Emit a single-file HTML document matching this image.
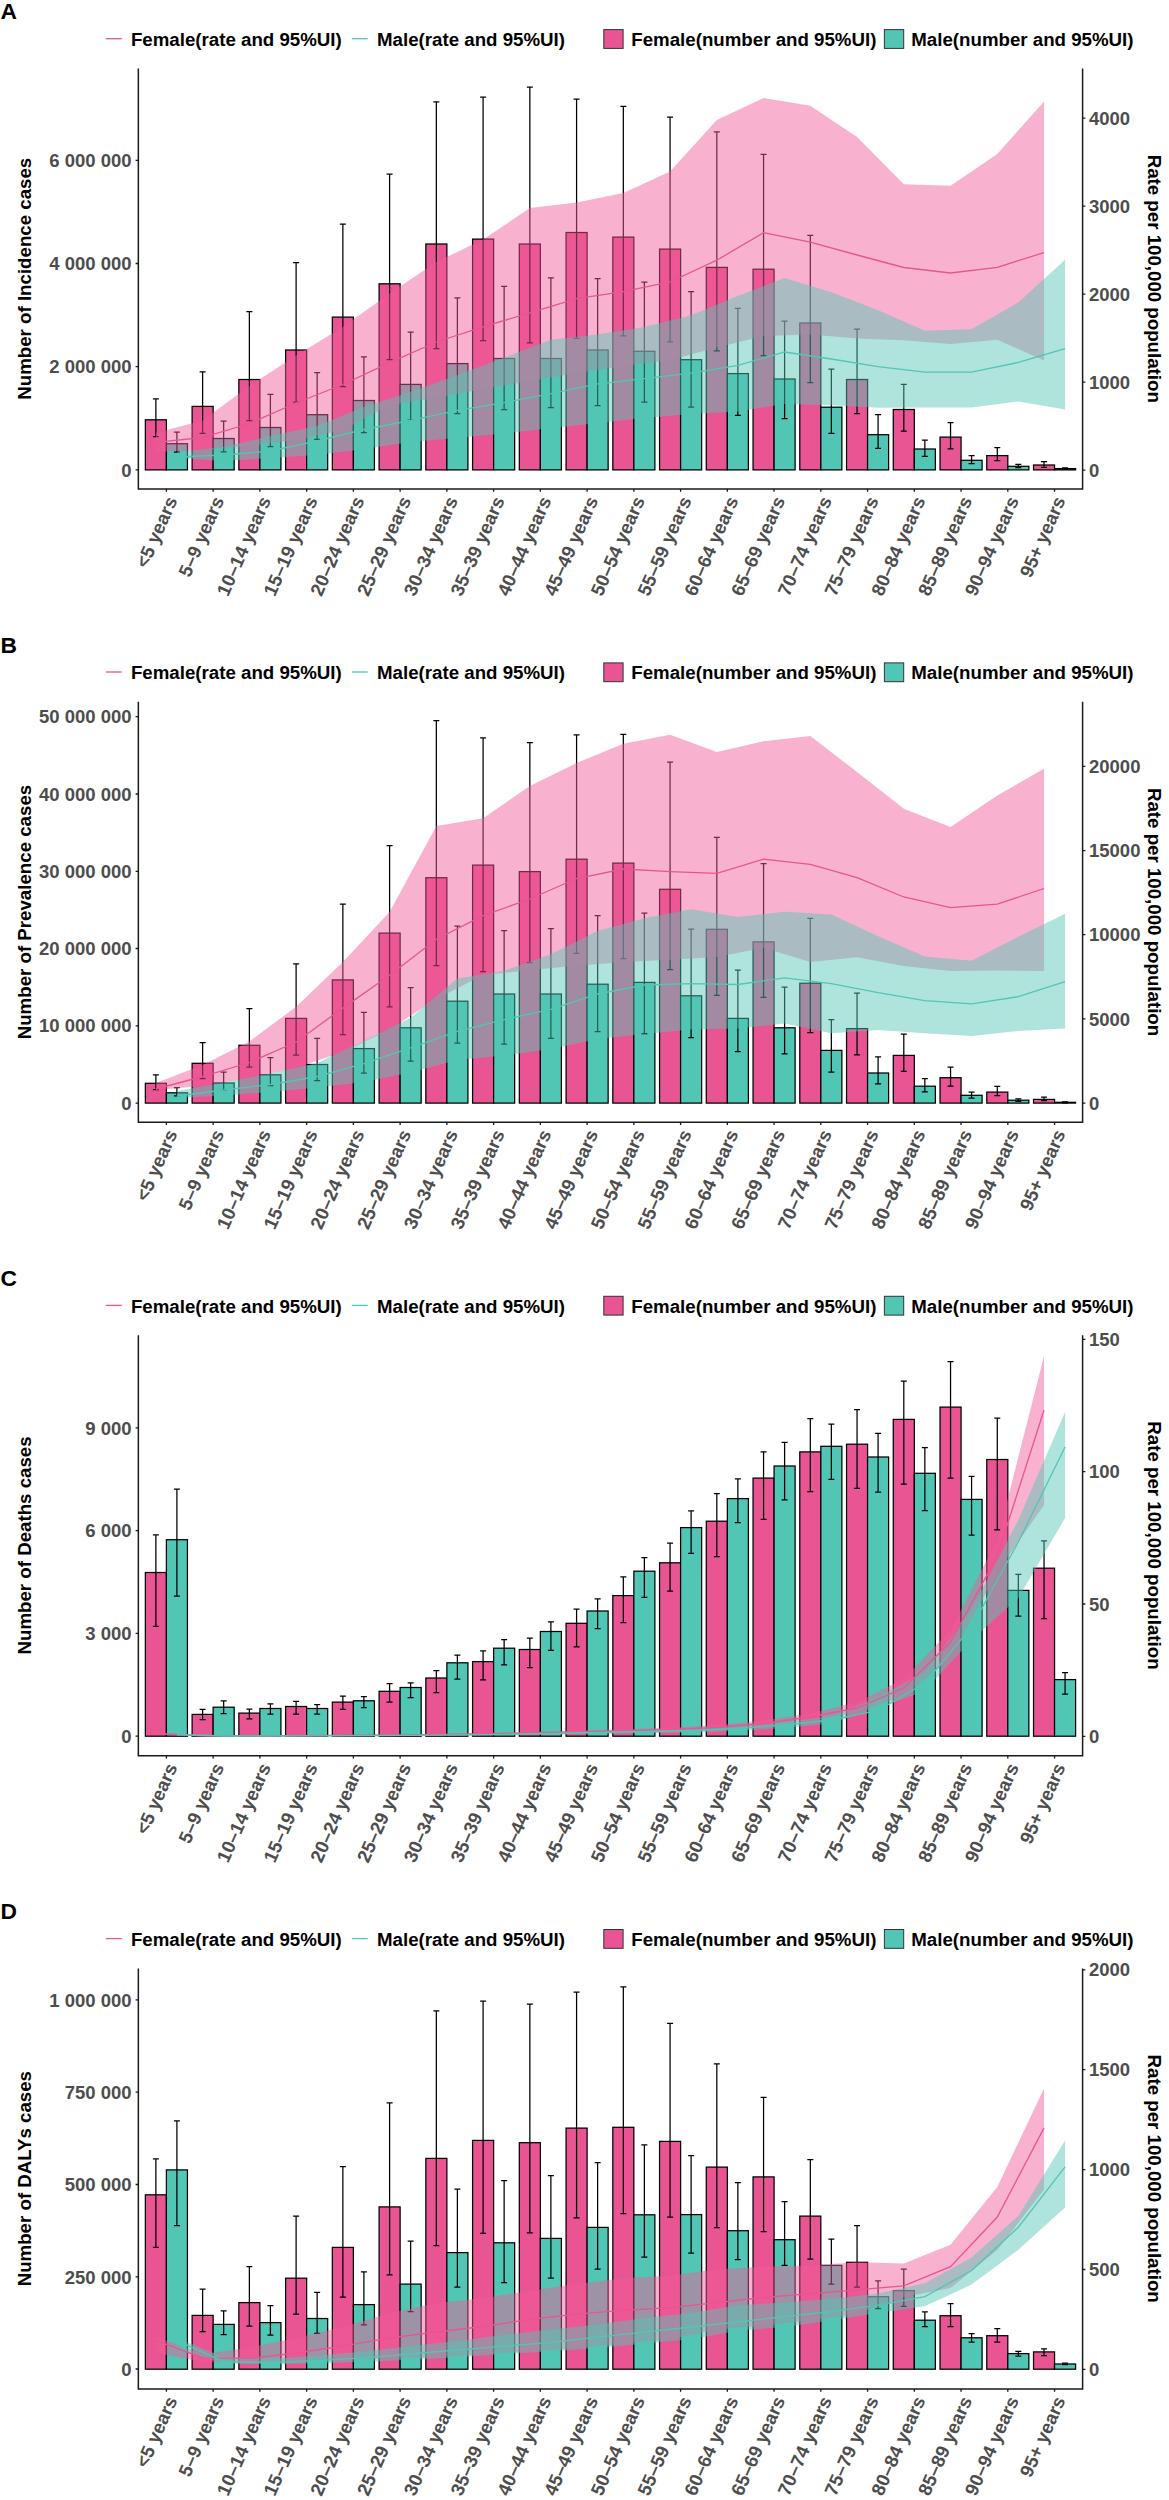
<!DOCTYPE html>
<html><head><meta charset="utf-8"><style>
html,body{margin:0;padding:0;background:#fff;}
svg{display:block;}
svg text{font-family:"Liberation Sans", sans-serif;}
</style></head><body>
<svg width="1169" height="2500" viewBox="0 0 1169 2500">
<rect width="1169" height="2500" fill="#fff"/>
<text x="0.5" y="19.2" font-size="22.8" font-weight="bold" fill="#000">A</text>
<line x1="105.7" x2="121.8" y1="38.7" y2="38.7" stroke="#E85592" stroke-width="1.3"/>
<line x1="351.8" x2="367.7" y1="38.7" y2="38.7" stroke="#52C6B4" stroke-width="1.3"/>
<rect x="603.8" y="29.6" width="19.3" height="18.8" fill="#E85592" stroke="#333" stroke-width="1"/>
<rect x="884.4" y="29.6" width="19.3" height="18.8" fill="#52C6B4" stroke="#333" stroke-width="1"/>
<text x="130.9" y="45.9" font-size="18.7" font-weight="bold" fill="#000">Female(rate and 95%UI)</text>
<text x="377" y="45.9" font-size="18.7" font-weight="bold" fill="#000">Male(rate and 95%UI)</text>
<text x="631.3" y="45.9" font-size="18.7" font-weight="bold" fill="#000">Female(number and 95%UI)</text>
<text x="911.3" y="45.9" font-size="18.7" font-weight="bold" fill="#000">Male(number and 95%UI)</text>
<rect x="145.36" y="419.8" width="21.04" height="50.1" fill="#E85592" stroke="#000" stroke-width="1.25"/>
<rect x="166.4" y="443.7" width="21.04" height="26.2" fill="#52C6B4" stroke="#000" stroke-width="1.25"/>
<rect x="192.11" y="406.4" width="21.04" height="63.5" fill="#E85592" stroke="#000" stroke-width="1.25"/>
<rect x="213.14" y="438.5" width="21.04" height="31.4" fill="#52C6B4" stroke="#000" stroke-width="1.25"/>
<rect x="238.85" y="379.5" width="21.04" height="90.4" fill="#E85592" stroke="#000" stroke-width="1.25"/>
<rect x="259.89" y="427.5" width="21.04" height="42.4" fill="#52C6B4" stroke="#000" stroke-width="1.25"/>
<rect x="285.6" y="350" width="21.04" height="119.9" fill="#E85592" stroke="#000" stroke-width="1.25"/>
<rect x="306.63" y="414.7" width="21.04" height="55.2" fill="#52C6B4" stroke="#000" stroke-width="1.25"/>
<rect x="332.34" y="317.1" width="21.04" height="152.8" fill="#E85592" stroke="#000" stroke-width="1.25"/>
<rect x="353.38" y="400.5" width="21.04" height="69.4" fill="#52C6B4" stroke="#000" stroke-width="1.25"/>
<rect x="379.09" y="283.8" width="21.04" height="186.1" fill="#E85592" stroke="#000" stroke-width="1.25"/>
<rect x="400.12" y="384.4" width="21.04" height="85.5" fill="#52C6B4" stroke="#000" stroke-width="1.25"/>
<rect x="425.83" y="244" width="21.04" height="225.9" fill="#E85592" stroke="#000" stroke-width="1.25"/>
<rect x="446.87" y="363.6" width="21.04" height="106.3" fill="#52C6B4" stroke="#000" stroke-width="1.25"/>
<rect x="472.58" y="239.1" width="21.04" height="230.8" fill="#E85592" stroke="#000" stroke-width="1.25"/>
<rect x="493.61" y="358.5" width="21.04" height="111.4" fill="#52C6B4" stroke="#000" stroke-width="1.25"/>
<rect x="519.32" y="244" width="21.04" height="225.9" fill="#E85592" stroke="#000" stroke-width="1.25"/>
<rect x="540.36" y="358.5" width="21.04" height="111.4" fill="#52C6B4" stroke="#000" stroke-width="1.25"/>
<rect x="566.07" y="232.5" width="21.04" height="237.4" fill="#E85592" stroke="#000" stroke-width="1.25"/>
<rect x="587.1" y="350" width="21.04" height="119.9" fill="#52C6B4" stroke="#000" stroke-width="1.25"/>
<rect x="612.81" y="237.1" width="21.04" height="232.8" fill="#E85592" stroke="#000" stroke-width="1.25"/>
<rect x="633.85" y="351.3" width="21.04" height="118.6" fill="#52C6B4" stroke="#000" stroke-width="1.25"/>
<rect x="659.56" y="249.1" width="21.04" height="220.8" fill="#E85592" stroke="#000" stroke-width="1.25"/>
<rect x="680.59" y="359.7" width="21.04" height="110.2" fill="#52C6B4" stroke="#000" stroke-width="1.25"/>
<rect x="706.3" y="267.4" width="21.04" height="202.5" fill="#E85592" stroke="#000" stroke-width="1.25"/>
<rect x="727.34" y="373.6" width="21.04" height="96.3" fill="#52C6B4" stroke="#000" stroke-width="1.25"/>
<rect x="753.05" y="269.2" width="21.04" height="200.7" fill="#E85592" stroke="#000" stroke-width="1.25"/>
<rect x="774.08" y="379" width="21.04" height="90.9" fill="#52C6B4" stroke="#000" stroke-width="1.25"/>
<rect x="799.79" y="323" width="21.04" height="146.9" fill="#E85592" stroke="#000" stroke-width="1.25"/>
<rect x="820.83" y="407.2" width="21.04" height="62.7" fill="#52C6B4" stroke="#000" stroke-width="1.25"/>
<rect x="846.54" y="379.5" width="21.04" height="90.4" fill="#E85592" stroke="#000" stroke-width="1.25"/>
<rect x="867.57" y="434.7" width="21.04" height="35.2" fill="#52C6B4" stroke="#000" stroke-width="1.25"/>
<rect x="893.28" y="409.5" width="21.04" height="60.4" fill="#E85592" stroke="#000" stroke-width="1.25"/>
<rect x="914.32" y="449" width="21.04" height="20.9" fill="#52C6B4" stroke="#000" stroke-width="1.25"/>
<rect x="940.03" y="437.1" width="21.04" height="32.8" fill="#E85592" stroke="#000" stroke-width="1.25"/>
<rect x="961.06" y="460.3" width="21.04" height="9.6" fill="#52C6B4" stroke="#000" stroke-width="1.25"/>
<rect x="986.77" y="455.6" width="21.04" height="14.3" fill="#E85592" stroke="#000" stroke-width="1.25"/>
<rect x="1007.81" y="466.3" width="21.04" height="3.6" fill="#52C6B4" stroke="#000" stroke-width="1.25"/>
<rect x="1033.52" y="465" width="21.04" height="4.9" fill="#E85592" stroke="#000" stroke-width="1.25"/>
<rect x="1054.55" y="468.6" width="21.04" height="1.3" fill="#52C6B4" stroke="#000" stroke-width="1.25"/>
<path d="M155.88 398.8V436.7M152.88 398.8H158.88M152.88 436.7H158.88" stroke="#000" stroke-width="1.25" fill="none"/>
<path d="M176.91 432.1V452.1M173.91 432.1H179.91M173.91 452.1H179.91" stroke="#000" stroke-width="1.25" fill="none"/>
<path d="M202.62 371.8V433.4M199.62 371.8H205.62M199.62 433.4H205.62" stroke="#000" stroke-width="1.25" fill="none"/>
<path d="M223.66 421.1V451.9M220.66 421.1H226.66M220.66 451.9H226.66" stroke="#000" stroke-width="1.25" fill="none"/>
<path d="M249.37 311.5V420.6M246.37 311.5H252.37M246.37 420.6H252.37" stroke="#000" stroke-width="1.25" fill="none"/>
<path d="M270.4 394.4V446.7M267.4 394.4H273.4M267.4 446.7H273.4" stroke="#000" stroke-width="1.25" fill="none"/>
<path d="M296.11 262.7V402.1M293.11 262.7H299.11M293.11 402.1H299.11" stroke="#000" stroke-width="1.25" fill="none"/>
<path d="M317.15 372.6V439.3M314.15 372.6H320.15M314.15 439.3H320.15" stroke="#000" stroke-width="1.25" fill="none"/>
<path d="M342.86 224.2V386.7M339.86 224.2H345.86M339.86 386.7H345.86" stroke="#000" stroke-width="1.25" fill="none"/>
<path d="M363.89 356.9V432.6M360.89 356.9H366.89M360.89 432.6H366.89" stroke="#000" stroke-width="1.25" fill="none"/>
<path d="M389.6 174.2V359.7M386.6 174.2H392.6M386.6 359.7H392.6" stroke="#000" stroke-width="1.25" fill="none"/>
<path d="M410.64 332V420M407.64 332H413.64M407.64 420H413.64" stroke="#000" stroke-width="1.25" fill="none"/>
<path d="M436.35 101.8V348.7M433.35 101.8H439.35M433.35 348.7H439.35" stroke="#000" stroke-width="1.25" fill="none"/>
<path d="M457.38 297.9V413.6M454.38 297.9H460.38M454.38 413.6H460.38" stroke="#000" stroke-width="1.25" fill="none"/>
<path d="M483.09 97.2V340.5M480.09 97.2H486.09M480.09 340.5H486.09" stroke="#000" stroke-width="1.25" fill="none"/>
<path d="M504.13 286.3V409.5M501.13 286.3H507.13M501.13 409.5H507.13" stroke="#000" stroke-width="1.25" fill="none"/>
<path d="M529.84 87.2V342.8M526.84 87.2H532.84M526.84 342.8H532.84" stroke="#000" stroke-width="1.25" fill="none"/>
<path d="M550.88 277.9V407.7M547.88 277.9H553.88M547.88 407.7H553.88" stroke="#000" stroke-width="1.25" fill="none"/>
<path d="M576.58 99V338.4M573.58 99H579.58M573.58 338.4H579.58" stroke="#000" stroke-width="1.25" fill="none"/>
<path d="M597.62 278.6V405.7M594.62 278.6H600.62M594.62 405.7H600.62" stroke="#000" stroke-width="1.25" fill="none"/>
<path d="M623.33 106.4V335.9M620.33 106.4H626.33M620.33 335.9H626.33" stroke="#000" stroke-width="1.25" fill="none"/>
<path d="M644.37 282V402.1M641.37 282H647.37M641.37 402.1H647.37" stroke="#000" stroke-width="1.25" fill="none"/>
<path d="M670.07 117.2V341.8M667.07 117.2H673.07M667.07 341.8H673.07" stroke="#000" stroke-width="1.25" fill="none"/>
<path d="M691.11 291.5V407.2M688.11 291.5H694.11M688.11 407.2H694.11" stroke="#000" stroke-width="1.25" fill="none"/>
<path d="M716.82 131.9V350.8M713.82 131.9H719.82M713.82 350.8H719.82" stroke="#000" stroke-width="1.25" fill="none"/>
<path d="M737.86 308.4V415.4M734.86 308.4H740.86M734.86 415.4H740.86" stroke="#000" stroke-width="1.25" fill="none"/>
<path d="M763.57 154.4V355.6M760.57 154.4H766.57M760.57 355.6H766.57" stroke="#000" stroke-width="1.25" fill="none"/>
<path d="M784.6 321.2V418.5M781.6 321.2H787.6M781.6 418.5H787.6" stroke="#000" stroke-width="1.25" fill="none"/>
<path d="M810.31 235.3V382.6M807.31 235.3H813.31M807.31 382.6H813.31" stroke="#000" stroke-width="1.25" fill="none"/>
<path d="M831.35 369.2V433.4M828.35 369.2H834.35M828.35 433.4H834.35" stroke="#000" stroke-width="1.25" fill="none"/>
<path d="M857.06 329V413.6M854.06 329H860.06M854.06 413.6H860.06" stroke="#000" stroke-width="1.25" fill="none"/>
<path d="M878.09 414.7V448.3M875.09 414.7H881.09M875.09 448.3H881.09" stroke="#000" stroke-width="1.25" fill="none"/>
<path d="M903.8 384.4V431.1M900.8 384.4H906.8M900.8 431.1H906.8" stroke="#000" stroke-width="1.25" fill="none"/>
<path d="M924.84 440V456.3M921.84 440H927.84M921.84 456.3H927.84" stroke="#000" stroke-width="1.25" fill="none"/>
<path d="M950.55 422.5V448.8M947.55 422.5H953.55M947.55 448.8H953.55" stroke="#000" stroke-width="1.25" fill="none"/>
<path d="M971.58 455.6V463.5M968.58 455.6H974.58M968.58 463.5H974.58" stroke="#000" stroke-width="1.25" fill="none"/>
<path d="M997.29 447.5V460.7M994.29 447.5H1000.29M994.29 460.7H1000.29" stroke="#000" stroke-width="1.25" fill="none"/>
<path d="M1018.33 464.4V467.6M1015.33 464.4H1021.33M1015.33 467.6H1021.33" stroke="#000" stroke-width="1.25" fill="none"/>
<path d="M1044.04 461.6V467.3M1041.04 461.6H1047.04M1041.04 467.3H1047.04" stroke="#000" stroke-width="1.25" fill="none"/>
<path d="M1065.07 467.8V469.1M1062.07 467.8H1068.07M1062.07 469.1H1068.07" stroke="#000" stroke-width="1.25" fill="none"/>
<polygon points="155.88,433 202.62,420.6 249.37,386 296.11,355.5 342.86,327 389.6,293.4 436.35,262 483.09,239.6 529.84,208.1 576.58,202.4 623.33,192.9 670.07,171.6 716.82,120 763.57,98 810.31,105.7 857.06,137 903.8,184.3 950.55,185.8 997.29,154 1044.04,101.6 1044.04,360.5 997.29,339.8 950.55,344 903.8,340.2 857.06,338.4 810.31,334.6 763.57,335.9 716.82,347.4 670.07,360 623.33,366 576.58,373 529.84,381 483.09,389 436.35,398 389.6,405 342.86,430 296.11,440 249.37,446 202.62,450 155.88,452" fill="#F05A96" fill-opacity="0.47"/>
<polygon points="176.91,452 223.66,447 270.4,436 317.15,426 363.89,407 410.64,392 457.38,375 504.13,357.7 550.88,339.7 597.62,334.6 644.37,326.9 691.11,315.3 737.86,296.1 784.6,278.1 831.35,292.2 878.09,310.2 924.84,330.8 971.58,329.3 1018.33,302.6 1065.07,259.7 1065.07,409.5 1018.33,401.4 971.58,407.4 924.84,407.6 878.09,407.7 831.35,405.2 784.6,403.9 737.86,411.6 691.11,414.1 644.37,418 597.62,423.1 550.88,428.3 504.13,433.4 457.38,437.8 410.64,442 363.89,449 317.15,455 270.4,458 223.66,461 176.91,458" fill="#52C6B4" fill-opacity="0.47"/>
<polyline points="155.88,442.3 202.62,437.5 249.37,423.5 296.11,403 342.86,384.5 389.6,362.6 436.35,342 483.09,326.9 529.84,312.8 576.58,298.7 623.33,291.7 670.07,282 716.82,260.2 763.57,232.7 810.31,242.2 857.06,255 903.8,267.5 950.55,273 997.29,267.3 1044.04,252.6" fill="none" stroke="#E85592" stroke-width="1.3"/>
<polyline points="176.91,457 223.66,455 270.4,451 317.15,441 363.89,429.5 410.64,420.5 457.38,410.3 504.13,402.6 550.88,393.6 597.62,383.9 644.37,378.7 691.11,373.1 737.86,365.4 784.6,352 831.35,359 878.09,366.7 924.84,372.2 971.58,372.2 1018.33,362.4 1065.07,348.7" fill="none" stroke="#52C6B4" stroke-width="1.3"/>
<path d="M138.35 68.5V489H1082.6V68.5" fill="none" stroke="#1a1a1a" stroke-width="1.5"/>
<text x="131.6" y="476.5" text-anchor="end" font-size="18.5" font-weight="bold" fill="#4D4D4D">0</text>
<text x="131.6" y="373.3" text-anchor="end" font-size="18.5" font-weight="bold" fill="#4D4D4D">2 000 000</text>
<text x="131.6" y="270.1" text-anchor="end" font-size="18.5" font-weight="bold" fill="#4D4D4D">4 000 000</text>
<text x="131.6" y="166.9" text-anchor="end" font-size="18.5" font-weight="bold" fill="#4D4D4D">6 000 000</text>
<text x="1089" y="476.7" font-size="18.5" font-weight="bold" fill="#4D4D4D">0</text>
<text x="1089" y="388.7" font-size="18.5" font-weight="bold" fill="#4D4D4D">1000</text>
<text x="1089" y="300.7" font-size="18.5" font-weight="bold" fill="#4D4D4D">2000</text>
<text x="1089" y="212.7" font-size="18.5" font-weight="bold" fill="#4D4D4D">3000</text>
<text x="1089" y="124.7" font-size="18.5" font-weight="bold" fill="#4D4D4D">4000</text>
<path d="M135.6 469.9H138.35M135.6 366.7H138.35M135.6 263.5H138.35M135.6 160.3H138.35M1082.6 470.1H1085.35M1082.6 382.1H1085.35M1082.6 294.1H1085.35M1082.6 206.1H1085.35M1082.6 118.1H1085.35M166.4 489V491.75M213.14 489V491.75M259.89 489V491.75M306.63 489V491.75M353.38 489V491.75M400.12 489V491.75M446.87 489V491.75M493.61 489V491.75M540.36 489V491.75M587.1 489V491.75M633.85 489V491.75M680.59 489V491.75M727.34 489V491.75M774.08 489V491.75M820.83 489V491.75M867.57 489V491.75M914.32 489V491.75M961.06 489V491.75M1007.81 489V491.75M1054.55 489V491.75" stroke="#1a1a1a" stroke-width="1.3" fill="none"/>
<text transform="translate(177.7,500.3) rotate(-66)" text-anchor="end" font-size="18.7" font-weight="bold" fill="#4D4D4D"><5 years</text>
<text transform="translate(224.44,500.3) rotate(-66)" text-anchor="end" font-size="18.7" font-weight="bold" fill="#4D4D4D">5–9 years</text>
<text transform="translate(271.19,500.3) rotate(-66)" text-anchor="end" font-size="18.7" font-weight="bold" fill="#4D4D4D">10–14 years</text>
<text transform="translate(317.93,500.3) rotate(-66)" text-anchor="end" font-size="18.7" font-weight="bold" fill="#4D4D4D">15–19 years</text>
<text transform="translate(364.68,500.3) rotate(-66)" text-anchor="end" font-size="18.7" font-weight="bold" fill="#4D4D4D">20–24 years</text>
<text transform="translate(411.42,500.3) rotate(-66)" text-anchor="end" font-size="18.7" font-weight="bold" fill="#4D4D4D">25–29 years</text>
<text transform="translate(458.17,500.3) rotate(-66)" text-anchor="end" font-size="18.7" font-weight="bold" fill="#4D4D4D">30–34 years</text>
<text transform="translate(504.91,500.3) rotate(-66)" text-anchor="end" font-size="18.7" font-weight="bold" fill="#4D4D4D">35–39 years</text>
<text transform="translate(551.66,500.3) rotate(-66)" text-anchor="end" font-size="18.7" font-weight="bold" fill="#4D4D4D">40–44 years</text>
<text transform="translate(598.4,500.3) rotate(-66)" text-anchor="end" font-size="18.7" font-weight="bold" fill="#4D4D4D">45–49 years</text>
<text transform="translate(645.15,500.3) rotate(-66)" text-anchor="end" font-size="18.7" font-weight="bold" fill="#4D4D4D">50–54 years</text>
<text transform="translate(691.89,500.3) rotate(-66)" text-anchor="end" font-size="18.7" font-weight="bold" fill="#4D4D4D">55–59 years</text>
<text transform="translate(738.64,500.3) rotate(-66)" text-anchor="end" font-size="18.7" font-weight="bold" fill="#4D4D4D">60–64 years</text>
<text transform="translate(785.38,500.3) rotate(-66)" text-anchor="end" font-size="18.7" font-weight="bold" fill="#4D4D4D">65–69 years</text>
<text transform="translate(832.13,500.3) rotate(-66)" text-anchor="end" font-size="18.7" font-weight="bold" fill="#4D4D4D">70–74 years</text>
<text transform="translate(878.87,500.3) rotate(-66)" text-anchor="end" font-size="18.7" font-weight="bold" fill="#4D4D4D">75–79 years</text>
<text transform="translate(925.62,500.3) rotate(-66)" text-anchor="end" font-size="18.7" font-weight="bold" fill="#4D4D4D">80–84 years</text>
<text transform="translate(972.36,500.3) rotate(-66)" text-anchor="end" font-size="18.7" font-weight="bold" fill="#4D4D4D">85–89 years</text>
<text transform="translate(1019.11,500.3) rotate(-66)" text-anchor="end" font-size="18.7" font-weight="bold" fill="#4D4D4D">90–94 years</text>
<text transform="translate(1065.85,500.3) rotate(-66)" text-anchor="end" font-size="18.7" font-weight="bold" fill="#4D4D4D">95+ years</text>
<text transform="translate(30.8,278.75) rotate(-90)" text-anchor="middle" font-size="18.7" font-weight="bold" fill="#000">Number of Incidence cases</text>
<text transform="translate(1147.5,278.75) rotate(90)" text-anchor="middle" font-size="18.7" font-weight="bold" fill="#000">Rate per 100,000 population</text>
<text x="0.5" y="652.5" font-size="22.8" font-weight="bold" fill="#000">B</text>
<line x1="105.7" x2="121.8" y1="672" y2="672" stroke="#E85592" stroke-width="1.3"/>
<line x1="351.8" x2="367.7" y1="672" y2="672" stroke="#52C6B4" stroke-width="1.3"/>
<rect x="603.8" y="662.9" width="19.3" height="18.8" fill="#E85592" stroke="#333" stroke-width="1"/>
<rect x="884.4" y="662.9" width="19.3" height="18.8" fill="#52C6B4" stroke="#333" stroke-width="1"/>
<text x="130.9" y="679.2" font-size="18.7" font-weight="bold" fill="#000">Female(rate and 95%UI)</text>
<text x="377" y="679.2" font-size="18.7" font-weight="bold" fill="#000">Male(rate and 95%UI)</text>
<text x="631.3" y="679.2" font-size="18.7" font-weight="bold" fill="#000">Female(number and 95%UI)</text>
<text x="911.3" y="679.2" font-size="18.7" font-weight="bold" fill="#000">Male(number and 95%UI)</text>
<rect x="145.36" y="1083.3" width="21.04" height="19.8" fill="#E85592" stroke="#000" stroke-width="1.25"/>
<rect x="166.4" y="1092.8" width="21.04" height="10.3" fill="#52C6B4" stroke="#000" stroke-width="1.25"/>
<rect x="192.11" y="1063.3" width="21.04" height="39.8" fill="#E85592" stroke="#000" stroke-width="1.25"/>
<rect x="213.14" y="1083" width="21.04" height="20.1" fill="#52C6B4" stroke="#000" stroke-width="1.25"/>
<rect x="238.85" y="1045.3" width="21.04" height="57.8" fill="#E85592" stroke="#000" stroke-width="1.25"/>
<rect x="259.89" y="1074.8" width="21.04" height="28.3" fill="#52C6B4" stroke="#000" stroke-width="1.25"/>
<rect x="285.6" y="1018.4" width="21.04" height="84.7" fill="#E85592" stroke="#000" stroke-width="1.25"/>
<rect x="306.63" y="1064.5" width="21.04" height="38.6" fill="#52C6B4" stroke="#000" stroke-width="1.25"/>
<rect x="332.34" y="979.9" width="21.04" height="123.2" fill="#E85592" stroke="#000" stroke-width="1.25"/>
<rect x="353.38" y="1048.6" width="21.04" height="54.5" fill="#52C6B4" stroke="#000" stroke-width="1.25"/>
<rect x="379.09" y="933.1" width="21.04" height="170" fill="#E85592" stroke="#000" stroke-width="1.25"/>
<rect x="400.12" y="1027.8" width="21.04" height="75.3" fill="#52C6B4" stroke="#000" stroke-width="1.25"/>
<rect x="425.83" y="877.7" width="21.04" height="225.4" fill="#E85592" stroke="#000" stroke-width="1.25"/>
<rect x="446.87" y="1001.2" width="21.04" height="101.9" fill="#52C6B4" stroke="#000" stroke-width="1.25"/>
<rect x="472.58" y="865.1" width="21.04" height="238" fill="#E85592" stroke="#000" stroke-width="1.25"/>
<rect x="493.61" y="994" width="21.04" height="109.1" fill="#52C6B4" stroke="#000" stroke-width="1.25"/>
<rect x="519.32" y="871.6" width="21.04" height="231.5" fill="#E85592" stroke="#000" stroke-width="1.25"/>
<rect x="540.36" y="994" width="21.04" height="109.1" fill="#52C6B4" stroke="#000" stroke-width="1.25"/>
<rect x="566.07" y="859.2" width="21.04" height="243.9" fill="#E85592" stroke="#000" stroke-width="1.25"/>
<rect x="587.1" y="984.2" width="21.04" height="118.9" fill="#52C6B4" stroke="#000" stroke-width="1.25"/>
<rect x="612.81" y="863.1" width="21.04" height="240" fill="#E85592" stroke="#000" stroke-width="1.25"/>
<rect x="633.85" y="982.4" width="21.04" height="120.7" fill="#52C6B4" stroke="#000" stroke-width="1.25"/>
<rect x="659.56" y="889.3" width="21.04" height="213.8" fill="#E85592" stroke="#000" stroke-width="1.25"/>
<rect x="680.59" y="995.8" width="21.04" height="107.3" fill="#52C6B4" stroke="#000" stroke-width="1.25"/>
<rect x="706.3" y="929.3" width="21.04" height="173.8" fill="#E85592" stroke="#000" stroke-width="1.25"/>
<rect x="727.34" y="1018.4" width="21.04" height="84.7" fill="#52C6B4" stroke="#000" stroke-width="1.25"/>
<rect x="753.05" y="941.9" width="21.04" height="161.2" fill="#E85592" stroke="#000" stroke-width="1.25"/>
<rect x="774.08" y="1027.8" width="21.04" height="75.3" fill="#52C6B4" stroke="#000" stroke-width="1.25"/>
<rect x="799.79" y="983.2" width="21.04" height="119.9" fill="#E85592" stroke="#000" stroke-width="1.25"/>
<rect x="820.83" y="1050.4" width="21.04" height="52.7" fill="#52C6B4" stroke="#000" stroke-width="1.25"/>
<rect x="846.54" y="1028.6" width="21.04" height="74.5" fill="#E85592" stroke="#000" stroke-width="1.25"/>
<rect x="867.57" y="1073" width="21.04" height="30.1" fill="#52C6B4" stroke="#000" stroke-width="1.25"/>
<rect x="893.28" y="1055.4" width="21.04" height="47.7" fill="#E85592" stroke="#000" stroke-width="1.25"/>
<rect x="914.32" y="1086.2" width="21.04" height="16.9" fill="#52C6B4" stroke="#000" stroke-width="1.25"/>
<rect x="940.03" y="1077.7" width="21.04" height="25.4" fill="#E85592" stroke="#000" stroke-width="1.25"/>
<rect x="961.06" y="1095.3" width="21.04" height="7.8" fill="#52C6B4" stroke="#000" stroke-width="1.25"/>
<rect x="986.77" y="1092.1" width="21.04" height="11" fill="#E85592" stroke="#000" stroke-width="1.25"/>
<rect x="1007.81" y="1100.2" width="21.04" height="2.9" fill="#52C6B4" stroke="#000" stroke-width="1.25"/>
<rect x="1033.52" y="1099.4" width="21.04" height="3.7" fill="#E85592" stroke="#000" stroke-width="1.25"/>
<rect x="1054.55" y="1102.3" width="21.04" height="0.8" fill="#52C6B4" stroke="#000" stroke-width="1.25"/>
<path d="M155.88 1074.8V1089.7M152.88 1074.8H158.88M152.88 1089.7H158.88" stroke="#000" stroke-width="1.25" fill="none"/>
<path d="M176.91 1087.6V1095.9M173.91 1087.6H179.91M173.91 1095.9H179.91" stroke="#000" stroke-width="1.25" fill="none"/>
<path d="M202.62 1042.7V1078.7M199.62 1042.7H205.62M199.62 1078.7H205.62" stroke="#000" stroke-width="1.25" fill="none"/>
<path d="M223.66 1072.2V1090.2M220.66 1072.2H226.66M220.66 1090.2H226.66" stroke="#000" stroke-width="1.25" fill="none"/>
<path d="M249.37 1008.6V1067.1M246.37 1008.6H252.37M246.37 1067.1H252.37" stroke="#000" stroke-width="1.25" fill="none"/>
<path d="M270.4 1057.6V1085.6M267.4 1057.6H273.4M267.4 1085.6H273.4" stroke="#000" stroke-width="1.25" fill="none"/>
<path d="M296.11 963.9V1055M293.11 963.9H299.11M293.11 1055H299.11" stroke="#000" stroke-width="1.25" fill="none"/>
<path d="M317.15 1038.4V1080.7M314.15 1038.4H320.15M314.15 1080.7H320.15" stroke="#000" stroke-width="1.25" fill="none"/>
<path d="M342.86 904.2V1034.5M339.86 904.2H345.86M339.86 1034.5H345.86" stroke="#000" stroke-width="1.25" fill="none"/>
<path d="M363.89 1012.4V1073M360.89 1012.4H366.89M360.89 1073H366.89" stroke="#000" stroke-width="1.25" fill="none"/>
<path d="M389.6 845.6V1006.8M386.6 845.6H392.6M386.6 1006.8H392.6" stroke="#000" stroke-width="1.25" fill="none"/>
<path d="M410.64 987.6V1061.2M407.64 987.6H413.64M407.64 1061.2H413.64" stroke="#000" stroke-width="1.25" fill="none"/>
<path d="M436.35 720.7V965.7M433.35 720.7H439.35M433.35 965.7H439.35" stroke="#000" stroke-width="1.25" fill="none"/>
<path d="M457.38 926V1043.2M454.38 926H460.38M454.38 1043.2H460.38" stroke="#000" stroke-width="1.25" fill="none"/>
<path d="M483.09 737.9V971.6M480.09 737.9H486.09M480.09 971.6H486.09" stroke="#000" stroke-width="1.25" fill="none"/>
<path d="M504.13 930.6V1044M501.13 930.6H507.13M501.13 1044H507.13" stroke="#000" stroke-width="1.25" fill="none"/>
<path d="M529.84 742.5V962.7M526.84 742.5H532.84M526.84 962.7H532.84" stroke="#000" stroke-width="1.25" fill="none"/>
<path d="M550.88 928.5V1038.4M547.88 928.5H553.88M547.88 1038.4H553.88" stroke="#000" stroke-width="1.25" fill="none"/>
<path d="M576.58 734.8V953.4M573.58 734.8H579.58M573.58 953.4H579.58" stroke="#000" stroke-width="1.25" fill="none"/>
<path d="M597.62 915.7V1031.7M594.62 915.7H600.62M594.62 1031.7H600.62" stroke="#000" stroke-width="1.25" fill="none"/>
<path d="M623.33 734.3V958.6M620.33 734.3H626.33M620.33 958.6H626.33" stroke="#000" stroke-width="1.25" fill="none"/>
<path d="M644.37 913.1V1033.7M641.37 913.1H647.37M641.37 1033.7H647.37" stroke="#000" stroke-width="1.25" fill="none"/>
<path d="M670.07 762.2V969.6M667.07 762.2H673.07M667.07 969.6H673.07" stroke="#000" stroke-width="1.25" fill="none"/>
<path d="M691.11 929V1037.6M688.11 929H694.11M688.11 1037.6H694.11" stroke="#000" stroke-width="1.25" fill="none"/>
<path d="M716.82 837.4V995.3M713.82 837.4H719.82M713.82 995.3H719.82" stroke="#000" stroke-width="1.25" fill="none"/>
<path d="M737.86 970.1V1051.7M734.86 970.1H740.86M734.86 1051.7H740.86" stroke="#000" stroke-width="1.25" fill="none"/>
<path d="M763.57 863.6V997.3M760.57 863.6H766.57M760.57 997.3H766.57" stroke="#000" stroke-width="1.25" fill="none"/>
<path d="M784.6 987V1053.8M781.6 987H787.6M781.6 1053.8H787.6" stroke="#000" stroke-width="1.25" fill="none"/>
<path d="M810.31 918.3V1032.5M807.31 918.3H813.31M807.31 1032.5H813.31" stroke="#000" stroke-width="1.25" fill="none"/>
<path d="M831.35 1019.6V1072.2M828.35 1019.6H834.35M828.35 1072.2H834.35" stroke="#000" stroke-width="1.25" fill="none"/>
<path d="M857.06 993.2V1054.8M854.06 993.2H860.06M854.06 1054.8H860.06" stroke="#000" stroke-width="1.25" fill="none"/>
<path d="M878.09 1056.8V1083.8M875.09 1056.8H881.09M875.09 1083.8H881.09" stroke="#000" stroke-width="1.25" fill="none"/>
<path d="M903.8 1034.2V1071.3M900.8 1034.2H906.8M900.8 1071.3H906.8" stroke="#000" stroke-width="1.25" fill="none"/>
<path d="M924.84 1078.6V1091.8M921.84 1078.6H927.84M921.84 1091.8H927.84" stroke="#000" stroke-width="1.25" fill="none"/>
<path d="M950.55 1067V1086.2M947.55 1067H953.55M947.55 1086.2H953.55" stroke="#000" stroke-width="1.25" fill="none"/>
<path d="M971.58 1092V1098M968.58 1092H974.58M968.58 1098H974.58" stroke="#000" stroke-width="1.25" fill="none"/>
<path d="M997.29 1086.3V1095.6M994.29 1086.3H1000.29M994.29 1095.6H1000.29" stroke="#000" stroke-width="1.25" fill="none"/>
<path d="M1018.33 1098.9V1101.4M1015.33 1098.9H1021.33M1015.33 1101.4H1021.33" stroke="#000" stroke-width="1.25" fill="none"/>
<path d="M1044.04 1097.2V1100.7M1041.04 1097.2H1047.04M1041.04 1100.7H1047.04" stroke="#000" stroke-width="1.25" fill="none"/>
<path d="M1065.07 1101.8V1102.8M1062.07 1101.8H1068.07M1062.07 1102.8H1068.07" stroke="#000" stroke-width="1.25" fill="none"/>
<polygon points="155.88,1083 202.62,1065 249.37,1041.4 296.11,1006.8 342.86,962 389.6,912 436.35,826 483.09,818.2 529.84,786.1 576.58,763 623.33,743.8 670.07,734.8 716.82,752 763.57,741.2 810.31,736.1 857.06,772 903.8,808.8 950.55,826.9 997.29,795.6 1044.04,768.7 1044.04,971 997.29,970.5 950.55,971 903.8,966 857.06,957.3 810.31,961.9 763.57,947.8 716.82,957 670.07,959.8 623.33,961.9 576.58,965.7 529.84,970.1 483.09,975 436.35,999 389.6,1029.5 342.86,1052 296.11,1068 249.37,1078 202.62,1086 155.88,1090" fill="#F05A96" fill-opacity="0.47"/>
<polygon points="176.91,1091 223.66,1082.5 270.4,1073.5 317.15,1063 363.89,1041 410.64,1017.7 457.38,978.4 504.13,970.9 550.88,954.2 597.62,931.1 644.37,918.3 691.11,909.3 737.86,917 784.6,911.8 831.35,914.4 878.09,936.2 924.84,956.6 971.58,960.8 1018.33,936.8 1065.07,913.7 1065.07,1028.4 1018.33,1031 971.58,1036.1 924.84,1033.2 878.09,1029.9 831.35,1033.2 784.6,1023.5 737.86,1028.6 691.11,1029.5 644.37,1034 597.62,1039 550.88,1049 504.13,1055.5 457.38,1060 410.64,1072.5 363.89,1082 317.15,1087.5 270.4,1092 223.66,1095.5 176.91,1098" fill="#52C6B4" fill-opacity="0.47"/>
<polyline points="155.88,1089 202.62,1076.5 249.37,1062.5 296.11,1042 342.86,1008.1 389.6,975.3 436.35,939.2 483.09,915.7 529.84,899 576.58,878.5 623.33,869 670.07,871.6 716.82,873.4 763.57,859.2 810.31,864.4 857.06,877.7 903.8,897 950.55,907.7 997.29,904.2 1044.04,888.5" fill="none" stroke="#E85592" stroke-width="1.3"/>
<polyline points="176.91,1096 223.66,1090 270.4,1084.5 317.15,1076.5 363.89,1063.6 410.64,1047.8 457.38,1031.3 504.13,1019.6 550.88,1009.4 597.62,994 644.37,985 691.11,983.7 737.86,984.5 784.6,977.8 831.35,983.7 878.09,992.7 924.84,1000.6 971.58,1003.9 1018.33,996.7 1065.07,981.7" fill="none" stroke="#52C6B4" stroke-width="1.3"/>
<path d="M138.35 701.8V1122.3H1082.6V701.8" fill="none" stroke="#1a1a1a" stroke-width="1.5"/>
<text x="131.6" y="1109.7" text-anchor="end" font-size="18.5" font-weight="bold" fill="#4D4D4D">0</text>
<text x="131.6" y="1032.4" text-anchor="end" font-size="18.5" font-weight="bold" fill="#4D4D4D">10 000 000</text>
<text x="131.6" y="955.1" text-anchor="end" font-size="18.5" font-weight="bold" fill="#4D4D4D">20 000 000</text>
<text x="131.6" y="877.9" text-anchor="end" font-size="18.5" font-weight="bold" fill="#4D4D4D">30 000 000</text>
<text x="131.6" y="800.6" text-anchor="end" font-size="18.5" font-weight="bold" fill="#4D4D4D">40 000 000</text>
<text x="131.6" y="723.3" text-anchor="end" font-size="18.5" font-weight="bold" fill="#4D4D4D">50 000 000</text>
<text x="1089" y="1109.7" font-size="18.5" font-weight="bold" fill="#4D4D4D">0</text>
<text x="1089" y="1025.5" font-size="18.5" font-weight="bold" fill="#4D4D4D">5000</text>
<text x="1089" y="941.3" font-size="18.5" font-weight="bold" fill="#4D4D4D">10000</text>
<text x="1089" y="857.2" font-size="18.5" font-weight="bold" fill="#4D4D4D">15000</text>
<text x="1089" y="773" font-size="18.5" font-weight="bold" fill="#4D4D4D">20000</text>
<path d="M135.6 1103.1H138.35M135.6 1025.8H138.35M135.6 948.5H138.35M135.6 871.3H138.35M135.6 794H138.35M135.6 716.7H138.35M1082.6 1103.1H1085.35M1082.6 1018.9H1085.35M1082.6 934.7H1085.35M1082.6 850.6H1085.35M1082.6 766.4H1085.35M166.4 1122.3V1125.05M213.14 1122.3V1125.05M259.89 1122.3V1125.05M306.63 1122.3V1125.05M353.38 1122.3V1125.05M400.12 1122.3V1125.05M446.87 1122.3V1125.05M493.61 1122.3V1125.05M540.36 1122.3V1125.05M587.1 1122.3V1125.05M633.85 1122.3V1125.05M680.59 1122.3V1125.05M727.34 1122.3V1125.05M774.08 1122.3V1125.05M820.83 1122.3V1125.05M867.57 1122.3V1125.05M914.32 1122.3V1125.05M961.06 1122.3V1125.05M1007.81 1122.3V1125.05M1054.55 1122.3V1125.05" stroke="#1a1a1a" stroke-width="1.3" fill="none"/>
<text transform="translate(177.7,1133.6) rotate(-66)" text-anchor="end" font-size="18.7" font-weight="bold" fill="#4D4D4D"><5 years</text>
<text transform="translate(224.44,1133.6) rotate(-66)" text-anchor="end" font-size="18.7" font-weight="bold" fill="#4D4D4D">5–9 years</text>
<text transform="translate(271.19,1133.6) rotate(-66)" text-anchor="end" font-size="18.7" font-weight="bold" fill="#4D4D4D">10–14 years</text>
<text transform="translate(317.93,1133.6) rotate(-66)" text-anchor="end" font-size="18.7" font-weight="bold" fill="#4D4D4D">15–19 years</text>
<text transform="translate(364.68,1133.6) rotate(-66)" text-anchor="end" font-size="18.7" font-weight="bold" fill="#4D4D4D">20–24 years</text>
<text transform="translate(411.42,1133.6) rotate(-66)" text-anchor="end" font-size="18.7" font-weight="bold" fill="#4D4D4D">25–29 years</text>
<text transform="translate(458.17,1133.6) rotate(-66)" text-anchor="end" font-size="18.7" font-weight="bold" fill="#4D4D4D">30–34 years</text>
<text transform="translate(504.91,1133.6) rotate(-66)" text-anchor="end" font-size="18.7" font-weight="bold" fill="#4D4D4D">35–39 years</text>
<text transform="translate(551.66,1133.6) rotate(-66)" text-anchor="end" font-size="18.7" font-weight="bold" fill="#4D4D4D">40–44 years</text>
<text transform="translate(598.4,1133.6) rotate(-66)" text-anchor="end" font-size="18.7" font-weight="bold" fill="#4D4D4D">45–49 years</text>
<text transform="translate(645.15,1133.6) rotate(-66)" text-anchor="end" font-size="18.7" font-weight="bold" fill="#4D4D4D">50–54 years</text>
<text transform="translate(691.89,1133.6) rotate(-66)" text-anchor="end" font-size="18.7" font-weight="bold" fill="#4D4D4D">55–59 years</text>
<text transform="translate(738.64,1133.6) rotate(-66)" text-anchor="end" font-size="18.7" font-weight="bold" fill="#4D4D4D">60–64 years</text>
<text transform="translate(785.38,1133.6) rotate(-66)" text-anchor="end" font-size="18.7" font-weight="bold" fill="#4D4D4D">65–69 years</text>
<text transform="translate(832.13,1133.6) rotate(-66)" text-anchor="end" font-size="18.7" font-weight="bold" fill="#4D4D4D">70–74 years</text>
<text transform="translate(878.87,1133.6) rotate(-66)" text-anchor="end" font-size="18.7" font-weight="bold" fill="#4D4D4D">75–79 years</text>
<text transform="translate(925.62,1133.6) rotate(-66)" text-anchor="end" font-size="18.7" font-weight="bold" fill="#4D4D4D">80–84 years</text>
<text transform="translate(972.36,1133.6) rotate(-66)" text-anchor="end" font-size="18.7" font-weight="bold" fill="#4D4D4D">85–89 years</text>
<text transform="translate(1019.11,1133.6) rotate(-66)" text-anchor="end" font-size="18.7" font-weight="bold" fill="#4D4D4D">90–94 years</text>
<text transform="translate(1065.85,1133.6) rotate(-66)" text-anchor="end" font-size="18.7" font-weight="bold" fill="#4D4D4D">95+ years</text>
<text transform="translate(30.8,912.05) rotate(-90)" text-anchor="middle" font-size="18.7" font-weight="bold" fill="#000">Number of Prevalence cases</text>
<text transform="translate(1147.5,912.05) rotate(90)" text-anchor="middle" font-size="18.7" font-weight="bold" fill="#000">Rate per 100,000 population</text>
<text x="0.5" y="1285.9" font-size="22.8" font-weight="bold" fill="#000">C</text>
<line x1="105.7" x2="121.8" y1="1305.4" y2="1305.4" stroke="#E85592" stroke-width="1.3"/>
<line x1="351.8" x2="367.7" y1="1305.4" y2="1305.4" stroke="#52C6B4" stroke-width="1.3"/>
<rect x="603.8" y="1296.3" width="19.3" height="18.8" fill="#E85592" stroke="#333" stroke-width="1"/>
<rect x="884.4" y="1296.3" width="19.3" height="18.8" fill="#52C6B4" stroke="#333" stroke-width="1"/>
<text x="130.9" y="1312.6" font-size="18.7" font-weight="bold" fill="#000">Female(rate and 95%UI)</text>
<text x="377" y="1312.6" font-size="18.7" font-weight="bold" fill="#000">Male(rate and 95%UI)</text>
<text x="631.3" y="1312.6" font-size="18.7" font-weight="bold" fill="#000">Female(number and 95%UI)</text>
<text x="911.3" y="1312.6" font-size="18.7" font-weight="bold" fill="#000">Male(number and 95%UI)</text>
<rect x="145.36" y="1572.5" width="21.04" height="163.7" fill="#E85592" stroke="#000" stroke-width="1.25"/>
<rect x="166.4" y="1539.7" width="21.04" height="196.5" fill="#52C6B4" stroke="#000" stroke-width="1.25"/>
<rect x="192.11" y="1714.4" width="21.04" height="21.8" fill="#E85592" stroke="#000" stroke-width="1.25"/>
<rect x="213.14" y="1707.2" width="21.04" height="29" fill="#52C6B4" stroke="#000" stroke-width="1.25"/>
<rect x="238.85" y="1713.1" width="21.04" height="23.1" fill="#E85592" stroke="#000" stroke-width="1.25"/>
<rect x="259.89" y="1708.5" width="21.04" height="27.7" fill="#52C6B4" stroke="#000" stroke-width="1.25"/>
<rect x="285.6" y="1706.5" width="21.04" height="29.7" fill="#E85592" stroke="#000" stroke-width="1.25"/>
<rect x="306.63" y="1708.5" width="21.04" height="27.7" fill="#52C6B4" stroke="#000" stroke-width="1.25"/>
<rect x="332.34" y="1702.1" width="21.04" height="34.1" fill="#E85592" stroke="#000" stroke-width="1.25"/>
<rect x="353.38" y="1700.8" width="21.04" height="35.4" fill="#52C6B4" stroke="#000" stroke-width="1.25"/>
<rect x="379.09" y="1691.3" width="21.04" height="44.9" fill="#E85592" stroke="#000" stroke-width="1.25"/>
<rect x="400.12" y="1687.5" width="21.04" height="48.7" fill="#52C6B4" stroke="#000" stroke-width="1.25"/>
<rect x="425.83" y="1678" width="21.04" height="58.2" fill="#E85592" stroke="#000" stroke-width="1.25"/>
<rect x="446.87" y="1662.8" width="21.04" height="73.4" fill="#52C6B4" stroke="#000" stroke-width="1.25"/>
<rect x="472.58" y="1661.6" width="21.04" height="74.6" fill="#E85592" stroke="#000" stroke-width="1.25"/>
<rect x="493.61" y="1648.2" width="21.04" height="88" fill="#52C6B4" stroke="#000" stroke-width="1.25"/>
<rect x="519.32" y="1649.5" width="21.04" height="86.7" fill="#E85592" stroke="#000" stroke-width="1.25"/>
<rect x="540.36" y="1631.5" width="21.04" height="104.7" fill="#52C6B4" stroke="#000" stroke-width="1.25"/>
<rect x="566.07" y="1623.3" width="21.04" height="112.9" fill="#E85592" stroke="#000" stroke-width="1.25"/>
<rect x="587.1" y="1611" width="21.04" height="125.2" fill="#52C6B4" stroke="#000" stroke-width="1.25"/>
<rect x="612.81" y="1595.6" width="21.04" height="140.6" fill="#E85592" stroke="#000" stroke-width="1.25"/>
<rect x="633.85" y="1571.2" width="21.04" height="165" fill="#52C6B4" stroke="#000" stroke-width="1.25"/>
<rect x="659.56" y="1562.8" width="21.04" height="173.4" fill="#E85592" stroke="#000" stroke-width="1.25"/>
<rect x="680.59" y="1527.6" width="21.04" height="208.6" fill="#52C6B4" stroke="#000" stroke-width="1.25"/>
<rect x="706.3" y="1521.2" width="21.04" height="215" fill="#E85592" stroke="#000" stroke-width="1.25"/>
<rect x="727.34" y="1498.6" width="21.04" height="237.6" fill="#52C6B4" stroke="#000" stroke-width="1.25"/>
<rect x="753.05" y="1478.1" width="21.04" height="258.1" fill="#E85592" stroke="#000" stroke-width="1.25"/>
<rect x="774.08" y="1466" width="21.04" height="270.2" fill="#52C6B4" stroke="#000" stroke-width="1.25"/>
<rect x="799.79" y="1451.9" width="21.04" height="284.3" fill="#E85592" stroke="#000" stroke-width="1.25"/>
<rect x="820.83" y="1446.3" width="21.04" height="289.9" fill="#52C6B4" stroke="#000" stroke-width="1.25"/>
<rect x="846.54" y="1444.2" width="21.04" height="292" fill="#E85592" stroke="#000" stroke-width="1.25"/>
<rect x="867.57" y="1457" width="21.04" height="279.2" fill="#52C6B4" stroke="#000" stroke-width="1.25"/>
<rect x="893.28" y="1419.4" width="21.04" height="316.8" fill="#E85592" stroke="#000" stroke-width="1.25"/>
<rect x="914.32" y="1473.3" width="21.04" height="262.9" fill="#52C6B4" stroke="#000" stroke-width="1.25"/>
<rect x="940.03" y="1407.1" width="21.04" height="329.1" fill="#E85592" stroke="#000" stroke-width="1.25"/>
<rect x="961.06" y="1499.4" width="21.04" height="236.8" fill="#52C6B4" stroke="#000" stroke-width="1.25"/>
<rect x="986.77" y="1459.5" width="21.04" height="276.7" fill="#E85592" stroke="#000" stroke-width="1.25"/>
<rect x="1007.81" y="1590.4" width="21.04" height="145.8" fill="#52C6B4" stroke="#000" stroke-width="1.25"/>
<rect x="1033.52" y="1568.2" width="21.04" height="168" fill="#E85592" stroke="#000" stroke-width="1.25"/>
<rect x="1054.55" y="1679.6" width="21.04" height="56.6" fill="#52C6B4" stroke="#000" stroke-width="1.25"/>
<path d="M155.88 1534.8V1626.4M152.88 1534.8H158.88M152.88 1626.4H158.88" stroke="#000" stroke-width="1.25" fill="none"/>
<path d="M176.91 1489.1V1596.1M173.91 1489.1H179.91M173.91 1596.1H179.91" stroke="#000" stroke-width="1.25" fill="none"/>
<path d="M202.62 1709.3V1719.6M199.62 1709.3H205.62M199.62 1719.6H205.62" stroke="#000" stroke-width="1.25" fill="none"/>
<path d="M223.66 1700.8V1713.7M220.66 1700.8H226.66M220.66 1713.7H226.66" stroke="#000" stroke-width="1.25" fill="none"/>
<path d="M249.37 1709V1718.8M246.37 1709H252.37M246.37 1718.8H252.37" stroke="#000" stroke-width="1.25" fill="none"/>
<path d="M270.4 1703.9V1714.2M267.4 1703.9H273.4M267.4 1714.2H273.4" stroke="#000" stroke-width="1.25" fill="none"/>
<path d="M296.11 1701.3V1714.2M293.11 1701.3H299.11M293.11 1714.2H299.11" stroke="#000" stroke-width="1.25" fill="none"/>
<path d="M317.15 1704.7V1714.2M314.15 1704.7H320.15M314.15 1714.2H320.15" stroke="#000" stroke-width="1.25" fill="none"/>
<path d="M342.86 1696.2V1709.3M339.86 1696.2H345.86M339.86 1709.3H345.86" stroke="#000" stroke-width="1.25" fill="none"/>
<path d="M363.89 1696.5V1707.7M360.89 1696.5H366.89M360.89 1707.7H366.89" stroke="#000" stroke-width="1.25" fill="none"/>
<path d="M389.6 1683.6V1702.1M386.6 1683.6H392.6M386.6 1702.1H392.6" stroke="#000" stroke-width="1.25" fill="none"/>
<path d="M410.64 1682.9V1697.5M407.64 1682.9H413.64M407.64 1697.5H413.64" stroke="#000" stroke-width="1.25" fill="none"/>
<path d="M436.35 1670.5V1692.6M433.35 1670.5H439.35M433.35 1692.6H439.35" stroke="#000" stroke-width="1.25" fill="none"/>
<path d="M457.38 1655.1V1679M454.38 1655.1H460.38M454.38 1679H460.38" stroke="#000" stroke-width="1.25" fill="none"/>
<path d="M483.09 1650.8V1679.8M480.09 1650.8H486.09M480.09 1679.8H486.09" stroke="#000" stroke-width="1.25" fill="none"/>
<path d="M504.13 1639.7V1664.9M501.13 1639.7H507.13M501.13 1664.9H507.13" stroke="#000" stroke-width="1.25" fill="none"/>
<path d="M529.84 1638V1667.5M526.84 1638H532.84M526.84 1667.5H532.84" stroke="#000" stroke-width="1.25" fill="none"/>
<path d="M550.88 1621.8V1650.3M547.88 1621.8H553.88M547.88 1650.3H553.88" stroke="#000" stroke-width="1.25" fill="none"/>
<path d="M576.58 1609.2V1646.9M573.58 1609.2H579.58M573.58 1646.9H579.58" stroke="#000" stroke-width="1.25" fill="none"/>
<path d="M597.62 1598.9V1628.5M594.62 1598.9H600.62M594.62 1628.5H600.62" stroke="#000" stroke-width="1.25" fill="none"/>
<path d="M623.33 1576.9V1622.6M620.33 1576.9H626.33M620.33 1622.6H626.33" stroke="#000" stroke-width="1.25" fill="none"/>
<path d="M644.37 1557.6V1597.4M641.37 1557.6H647.37M641.37 1597.4H647.37" stroke="#000" stroke-width="1.25" fill="none"/>
<path d="M670.07 1543V1591.2M667.07 1543H673.07M667.07 1591.2H673.07" stroke="#000" stroke-width="1.25" fill="none"/>
<path d="M691.11 1510.9V1553.3M688.11 1510.9H694.11M688.11 1553.3H694.11" stroke="#000" stroke-width="1.25" fill="none"/>
<path d="M716.82 1493.5V1556.6M713.82 1493.5H719.82M713.82 1556.6H719.82" stroke="#000" stroke-width="1.25" fill="none"/>
<path d="M737.86 1478.8V1522.5M734.86 1478.8H740.86M734.86 1522.5H740.86" stroke="#000" stroke-width="1.25" fill="none"/>
<path d="M763.57 1451.9V1519.4M760.57 1451.9H766.57M760.57 1519.4H766.57" stroke="#000" stroke-width="1.25" fill="none"/>
<path d="M784.6 1442.4V1499.9M781.6 1442.4H787.6M781.6 1499.9H787.6" stroke="#000" stroke-width="1.25" fill="none"/>
<path d="M810.31 1418.5V1491.7M807.31 1418.5H813.31M807.31 1491.7H813.31" stroke="#000" stroke-width="1.25" fill="none"/>
<path d="M831.35 1424.2V1479.4M828.35 1424.2H834.35M828.35 1479.4H834.35" stroke="#000" stroke-width="1.25" fill="none"/>
<path d="M857.06 1409.6V1488.3M854.06 1409.6H860.06M854.06 1488.3H860.06" stroke="#000" stroke-width="1.25" fill="none"/>
<path d="M878.09 1433.4V1492.2M875.09 1433.4H881.09M875.09 1492.2H881.09" stroke="#000" stroke-width="1.25" fill="none"/>
<path d="M903.8 1381.2V1484.2M900.8 1381.2H906.8M900.8 1484.2H906.8" stroke="#000" stroke-width="1.25" fill="none"/>
<path d="M924.84 1447.5V1510.6M921.84 1447.5H927.84M921.84 1510.6H927.84" stroke="#000" stroke-width="1.25" fill="none"/>
<path d="M950.55 1361.6V1478.2M947.55 1361.6H953.55M947.55 1478.2H953.55" stroke="#000" stroke-width="1.25" fill="none"/>
<path d="M971.58 1476.4V1535.2M968.58 1476.4H974.58M968.58 1535.2H974.58" stroke="#000" stroke-width="1.25" fill="none"/>
<path d="M997.29 1418.1V1529.8M994.29 1418.1H1000.29M994.29 1529.8H1000.29" stroke="#000" stroke-width="1.25" fill="none"/>
<path d="M1018.33 1574.4V1616.2M1015.33 1574.4H1021.33M1015.33 1616.2H1021.33" stroke="#000" stroke-width="1.25" fill="none"/>
<path d="M1044.04 1540.9V1618.7M1041.04 1540.9H1047.04M1041.04 1618.7H1047.04" stroke="#000" stroke-width="1.25" fill="none"/>
<path d="M1065.07 1672.7V1694M1062.07 1672.7H1068.07M1062.07 1694H1068.07" stroke="#000" stroke-width="1.25" fill="none"/>
<polygon points="155.88,1732.5 202.62,1735.2 249.37,1735.2 296.11,1735 342.86,1734.8 389.6,1734.4 436.35,1733.8 483.09,1733 529.84,1731.8 576.58,1730.5 623.33,1729.2 670.07,1727.5 716.82,1725 763.57,1720.5 810.31,1713.5 857.06,1702 903.8,1679 950.55,1630 997.29,1540 1044.04,1356 1044.04,1505 997.29,1572 950.55,1658 903.8,1696 857.06,1713 810.31,1720.5 763.57,1726.5 716.82,1730 670.07,1731.5 623.33,1732.8 576.58,1733.5 529.84,1734.2 483.09,1735 436.35,1735.4 389.6,1735.8 342.86,1736 296.11,1736.2 249.37,1736.4 202.62,1736.4 155.88,1734.5" fill="#F05A96" fill-opacity="0.47"/>
<polygon points="176.91,1733.5 223.66,1735.4 270.4,1735.4 317.15,1735.2 363.89,1735 410.64,1734.6 457.38,1734.1 504.13,1733.3 550.88,1732.3 597.62,1731 644.37,1729.7 691.11,1728.5 737.86,1726 784.6,1722 831.35,1716.5 878.09,1697 924.84,1672 971.58,1610 1018.33,1520 1065.07,1412 1065.07,1518 1018.33,1598 971.58,1640 924.84,1691 878.09,1708 831.35,1723.5 784.6,1728 737.86,1731 691.11,1732.5 644.37,1733.3 597.62,1734 550.88,1734.7 504.13,1735.3 457.38,1735.7 410.64,1736 363.89,1736.2 317.15,1736.4 270.4,1736.6 223.66,1736.6 176.91,1735.5" fill="#52C6B4" fill-opacity="0.47"/>
<polyline points="155.88,1733.5 202.62,1735.8 249.37,1735.8 296.11,1735.6 342.86,1735.4 389.6,1735.1 436.35,1734.6 483.09,1734 529.84,1733 576.58,1732 623.33,1731 670.07,1729.5 716.82,1727.5 763.57,1723.5 810.31,1717 857.06,1708 903.8,1688 950.55,1642 997.29,1556 1044.04,1410" fill="none" stroke="#E85592" stroke-width="1.3"/>
<polyline points="176.91,1734.5 223.66,1736 270.4,1736 317.15,1735.8 363.89,1735.6 410.64,1735.3 457.38,1734.9 504.13,1734.3 550.88,1733.5 597.62,1732.5 644.37,1731.5 691.11,1730.5 737.86,1728.5 784.6,1725 831.35,1720 878.09,1710.5 924.84,1683 971.58,1627 1018.33,1542 1065.07,1447" fill="none" stroke="#52C6B4" stroke-width="1.3"/>
<path d="M138.35 1335.2V1755.7H1082.6V1335.2" fill="none" stroke="#1a1a1a" stroke-width="1.5"/>
<text x="131.6" y="1742.8" text-anchor="end" font-size="18.5" font-weight="bold" fill="#4D4D4D">0</text>
<text x="131.6" y="1640" text-anchor="end" font-size="18.5" font-weight="bold" fill="#4D4D4D">3 000</text>
<text x="131.6" y="1537.3" text-anchor="end" font-size="18.5" font-weight="bold" fill="#4D4D4D">6 000</text>
<text x="131.6" y="1434.5" text-anchor="end" font-size="18.5" font-weight="bold" fill="#4D4D4D">9 000</text>
<text x="1089" y="1742.9" font-size="18.5" font-weight="bold" fill="#4D4D4D">0</text>
<text x="1089" y="1610.6" font-size="18.5" font-weight="bold" fill="#4D4D4D">50</text>
<text x="1089" y="1478.3" font-size="18.5" font-weight="bold" fill="#4D4D4D">100</text>
<text x="1089" y="1346" font-size="18.5" font-weight="bold" fill="#4D4D4D">150</text>
<path d="M135.6 1736.2H138.35M135.6 1633.4H138.35M135.6 1530.7H138.35M135.6 1427.9H138.35M1082.6 1736.3H1085.35M1082.6 1604H1085.35M1082.6 1471.7H1085.35M1082.6 1339.4H1085.35M166.4 1755.7V1758.45M213.14 1755.7V1758.45M259.89 1755.7V1758.45M306.63 1755.7V1758.45M353.38 1755.7V1758.45M400.12 1755.7V1758.45M446.87 1755.7V1758.45M493.61 1755.7V1758.45M540.36 1755.7V1758.45M587.1 1755.7V1758.45M633.85 1755.7V1758.45M680.59 1755.7V1758.45M727.34 1755.7V1758.45M774.08 1755.7V1758.45M820.83 1755.7V1758.45M867.57 1755.7V1758.45M914.32 1755.7V1758.45M961.06 1755.7V1758.45M1007.81 1755.7V1758.45M1054.55 1755.7V1758.45" stroke="#1a1a1a" stroke-width="1.3" fill="none"/>
<text transform="translate(177.7,1767) rotate(-66)" text-anchor="end" font-size="18.7" font-weight="bold" fill="#4D4D4D"><5 years</text>
<text transform="translate(224.44,1767) rotate(-66)" text-anchor="end" font-size="18.7" font-weight="bold" fill="#4D4D4D">5–9 years</text>
<text transform="translate(271.19,1767) rotate(-66)" text-anchor="end" font-size="18.7" font-weight="bold" fill="#4D4D4D">10–14 years</text>
<text transform="translate(317.93,1767) rotate(-66)" text-anchor="end" font-size="18.7" font-weight="bold" fill="#4D4D4D">15–19 years</text>
<text transform="translate(364.68,1767) rotate(-66)" text-anchor="end" font-size="18.7" font-weight="bold" fill="#4D4D4D">20–24 years</text>
<text transform="translate(411.42,1767) rotate(-66)" text-anchor="end" font-size="18.7" font-weight="bold" fill="#4D4D4D">25–29 years</text>
<text transform="translate(458.17,1767) rotate(-66)" text-anchor="end" font-size="18.7" font-weight="bold" fill="#4D4D4D">30–34 years</text>
<text transform="translate(504.91,1767) rotate(-66)" text-anchor="end" font-size="18.7" font-weight="bold" fill="#4D4D4D">35–39 years</text>
<text transform="translate(551.66,1767) rotate(-66)" text-anchor="end" font-size="18.7" font-weight="bold" fill="#4D4D4D">40–44 years</text>
<text transform="translate(598.4,1767) rotate(-66)" text-anchor="end" font-size="18.7" font-weight="bold" fill="#4D4D4D">45–49 years</text>
<text transform="translate(645.15,1767) rotate(-66)" text-anchor="end" font-size="18.7" font-weight="bold" fill="#4D4D4D">50–54 years</text>
<text transform="translate(691.89,1767) rotate(-66)" text-anchor="end" font-size="18.7" font-weight="bold" fill="#4D4D4D">55–59 years</text>
<text transform="translate(738.64,1767) rotate(-66)" text-anchor="end" font-size="18.7" font-weight="bold" fill="#4D4D4D">60–64 years</text>
<text transform="translate(785.38,1767) rotate(-66)" text-anchor="end" font-size="18.7" font-weight="bold" fill="#4D4D4D">65–69 years</text>
<text transform="translate(832.13,1767) rotate(-66)" text-anchor="end" font-size="18.7" font-weight="bold" fill="#4D4D4D">70–74 years</text>
<text transform="translate(878.87,1767) rotate(-66)" text-anchor="end" font-size="18.7" font-weight="bold" fill="#4D4D4D">75–79 years</text>
<text transform="translate(925.62,1767) rotate(-66)" text-anchor="end" font-size="18.7" font-weight="bold" fill="#4D4D4D">80–84 years</text>
<text transform="translate(972.36,1767) rotate(-66)" text-anchor="end" font-size="18.7" font-weight="bold" fill="#4D4D4D">85–89 years</text>
<text transform="translate(1019.11,1767) rotate(-66)" text-anchor="end" font-size="18.7" font-weight="bold" fill="#4D4D4D">90–94 years</text>
<text transform="translate(1065.85,1767) rotate(-66)" text-anchor="end" font-size="18.7" font-weight="bold" fill="#4D4D4D">95+ years</text>
<text transform="translate(30.8,1545.45) rotate(-90)" text-anchor="middle" font-size="18.7" font-weight="bold" fill="#000">Number of Deaths cases</text>
<text transform="translate(1147.5,1545.45) rotate(90)" text-anchor="middle" font-size="18.7" font-weight="bold" fill="#000">Rate per 100,000 population</text>
<text x="0.5" y="1919.1" font-size="22.8" font-weight="bold" fill="#000">D</text>
<line x1="105.7" x2="121.8" y1="1938.6" y2="1938.6" stroke="#E85592" stroke-width="1.3"/>
<line x1="351.8" x2="367.7" y1="1938.6" y2="1938.6" stroke="#52C6B4" stroke-width="1.3"/>
<rect x="603.8" y="1929.5" width="19.3" height="18.8" fill="#E85592" stroke="#333" stroke-width="1"/>
<rect x="884.4" y="1929.5" width="19.3" height="18.8" fill="#52C6B4" stroke="#333" stroke-width="1"/>
<text x="130.9" y="1945.8" font-size="18.7" font-weight="bold" fill="#000">Female(rate and 95%UI)</text>
<text x="377" y="1945.8" font-size="18.7" font-weight="bold" fill="#000">Male(rate and 95%UI)</text>
<text x="631.3" y="1945.8" font-size="18.7" font-weight="bold" fill="#000">Female(number and 95%UI)</text>
<text x="911.3" y="1945.8" font-size="18.7" font-weight="bold" fill="#000">Male(number and 95%UI)</text>
<rect x="145.36" y="2194.8" width="21.04" height="174.4" fill="#E85592" stroke="#000" stroke-width="1.25"/>
<rect x="166.4" y="2169.9" width="21.04" height="199.3" fill="#52C6B4" stroke="#000" stroke-width="1.25"/>
<rect x="192.11" y="2315.4" width="21.04" height="53.8" fill="#E85592" stroke="#000" stroke-width="1.25"/>
<rect x="213.14" y="2324.4" width="21.04" height="44.8" fill="#52C6B4" stroke="#000" stroke-width="1.25"/>
<rect x="238.85" y="2302.6" width="21.04" height="66.6" fill="#E85592" stroke="#000" stroke-width="1.25"/>
<rect x="259.89" y="2322.6" width="21.04" height="46.6" fill="#52C6B4" stroke="#000" stroke-width="1.25"/>
<rect x="285.6" y="2278.2" width="21.04" height="91" fill="#E85592" stroke="#000" stroke-width="1.25"/>
<rect x="306.63" y="2318.5" width="21.04" height="50.7" fill="#52C6B4" stroke="#000" stroke-width="1.25"/>
<rect x="332.34" y="2247.4" width="21.04" height="121.8" fill="#E85592" stroke="#000" stroke-width="1.25"/>
<rect x="353.38" y="2304.6" width="21.04" height="64.6" fill="#52C6B4" stroke="#000" stroke-width="1.25"/>
<rect x="379.09" y="2206.9" width="21.04" height="162.3" fill="#E85592" stroke="#000" stroke-width="1.25"/>
<rect x="400.12" y="2284.1" width="21.04" height="85.1" fill="#52C6B4" stroke="#000" stroke-width="1.25"/>
<rect x="425.83" y="2158.4" width="21.04" height="210.8" fill="#E85592" stroke="#000" stroke-width="1.25"/>
<rect x="446.87" y="2252.6" width="21.04" height="116.6" fill="#52C6B4" stroke="#000" stroke-width="1.25"/>
<rect x="472.58" y="2140.4" width="21.04" height="228.8" fill="#E85592" stroke="#000" stroke-width="1.25"/>
<rect x="493.61" y="2242.8" width="21.04" height="126.4" fill="#52C6B4" stroke="#000" stroke-width="1.25"/>
<rect x="519.32" y="2142.7" width="21.04" height="226.5" fill="#E85592" stroke="#000" stroke-width="1.25"/>
<rect x="540.36" y="2238.4" width="21.04" height="130.8" fill="#52C6B4" stroke="#000" stroke-width="1.25"/>
<rect x="566.07" y="2128.1" width="21.04" height="241.1" fill="#E85592" stroke="#000" stroke-width="1.25"/>
<rect x="587.1" y="2227.4" width="21.04" height="141.8" fill="#52C6B4" stroke="#000" stroke-width="1.25"/>
<rect x="612.81" y="2127.3" width="21.04" height="241.9" fill="#E85592" stroke="#000" stroke-width="1.25"/>
<rect x="633.85" y="2214.8" width="21.04" height="154.4" fill="#52C6B4" stroke="#000" stroke-width="1.25"/>
<rect x="659.56" y="2141.4" width="21.04" height="227.8" fill="#E85592" stroke="#000" stroke-width="1.25"/>
<rect x="680.59" y="2214.6" width="21.04" height="154.6" fill="#52C6B4" stroke="#000" stroke-width="1.25"/>
<rect x="706.3" y="2167.1" width="21.04" height="202.1" fill="#E85592" stroke="#000" stroke-width="1.25"/>
<rect x="727.34" y="2230.7" width="21.04" height="138.5" fill="#52C6B4" stroke="#000" stroke-width="1.25"/>
<rect x="753.05" y="2176.9" width="21.04" height="192.3" fill="#E85592" stroke="#000" stroke-width="1.25"/>
<rect x="774.08" y="2239.7" width="21.04" height="129.5" fill="#52C6B4" stroke="#000" stroke-width="1.25"/>
<rect x="799.79" y="2216.1" width="21.04" height="153.1" fill="#E85592" stroke="#000" stroke-width="1.25"/>
<rect x="820.83" y="2265.4" width="21.04" height="103.8" fill="#52C6B4" stroke="#000" stroke-width="1.25"/>
<rect x="846.54" y="2262.3" width="21.04" height="106.9" fill="#E85592" stroke="#000" stroke-width="1.25"/>
<rect x="867.57" y="2296.7" width="21.04" height="72.5" fill="#52C6B4" stroke="#000" stroke-width="1.25"/>
<rect x="893.28" y="2290.6" width="21.04" height="78.6" fill="#E85592" stroke="#000" stroke-width="1.25"/>
<rect x="914.32" y="2320.2" width="21.04" height="49" fill="#52C6B4" stroke="#000" stroke-width="1.25"/>
<rect x="940.03" y="2315.7" width="21.04" height="53.5" fill="#E85592" stroke="#000" stroke-width="1.25"/>
<rect x="961.06" y="2337.8" width="21.04" height="31.4" fill="#52C6B4" stroke="#000" stroke-width="1.25"/>
<rect x="986.77" y="2335.7" width="21.04" height="33.5" fill="#E85592" stroke="#000" stroke-width="1.25"/>
<rect x="1007.81" y="2353.6" width="21.04" height="15.6" fill="#52C6B4" stroke="#000" stroke-width="1.25"/>
<rect x="1033.52" y="2351.9" width="21.04" height="17.3" fill="#E85592" stroke="#000" stroke-width="1.25"/>
<rect x="1054.55" y="2364" width="21.04" height="5.2" fill="#52C6B4" stroke="#000" stroke-width="1.25"/>
<path d="M155.88 2158.9V2247.4M152.88 2158.9H158.88M152.88 2247.4H158.88" stroke="#000" stroke-width="1.25" fill="none"/>
<path d="M176.91 2120.9V2225.6M173.91 2120.9H179.91M173.91 2225.6H179.91" stroke="#000" stroke-width="1.25" fill="none"/>
<path d="M202.62 2289V2331.6M199.62 2289H205.62M199.62 2331.6H205.62" stroke="#000" stroke-width="1.25" fill="none"/>
<path d="M223.66 2310.8V2334.7M220.66 2310.8H226.66M220.66 2334.7H226.66" stroke="#000" stroke-width="1.25" fill="none"/>
<path d="M249.37 2266.7V2326.2M246.37 2266.7H252.37M246.37 2326.2H252.37" stroke="#000" stroke-width="1.25" fill="none"/>
<path d="M270.4 2305.7V2335.2M267.4 2305.7H273.4M267.4 2335.2H273.4" stroke="#000" stroke-width="1.25" fill="none"/>
<path d="M296.11 2216.1V2314.1M293.11 2216.1H299.11M293.11 2314.1H299.11" stroke="#000" stroke-width="1.25" fill="none"/>
<path d="M317.15 2292.3V2333.4M314.15 2292.3H320.15M314.15 2333.4H320.15" stroke="#000" stroke-width="1.25" fill="none"/>
<path d="M342.86 2166.6V2297M339.86 2166.6H345.86M339.86 2297H345.86" stroke="#000" stroke-width="1.25" fill="none"/>
<path d="M363.89 2271.8V2324.9M360.89 2271.8H366.89M360.89 2324.9H366.89" stroke="#000" stroke-width="1.25" fill="none"/>
<path d="M389.6 2102.9V2274.9M386.6 2102.9H392.6M386.6 2274.9H392.6" stroke="#000" stroke-width="1.25" fill="none"/>
<path d="M410.64 2241V2311.6M407.64 2241H413.64M407.64 2311.6H413.64" stroke="#000" stroke-width="1.25" fill="none"/>
<path d="M436.35 2010.8V2245.5M433.35 2010.8H439.35M433.35 2245.5H439.35" stroke="#000" stroke-width="1.25" fill="none"/>
<path d="M457.38 2189.2V2287.2M454.38 2189.2H460.38M454.38 2287.2H460.38" stroke="#000" stroke-width="1.25" fill="none"/>
<path d="M483.09 2001.1V2233.3M480.09 2001.1H486.09M480.09 2233.3H486.09" stroke="#000" stroke-width="1.25" fill="none"/>
<path d="M504.13 2180.7V2282.6M501.13 2180.7H507.13M501.13 2282.6H507.13" stroke="#000" stroke-width="1.25" fill="none"/>
<path d="M529.84 2004.1V2232.8M526.84 2004.1H532.84M526.84 2232.8H532.84" stroke="#000" stroke-width="1.25" fill="none"/>
<path d="M550.88 2175.6V2278.2M547.88 2175.6H553.88M547.88 2278.2H553.88" stroke="#000" stroke-width="1.25" fill="none"/>
<path d="M576.58 1992.1V2217.9M573.58 1992.1H579.58M573.58 2217.9H579.58" stroke="#000" stroke-width="1.25" fill="none"/>
<path d="M597.62 2162.7V2269.2M594.62 2162.7H600.62M594.62 2269.2H600.62" stroke="#000" stroke-width="1.25" fill="none"/>
<path d="M623.33 1986.9V2213.5M620.33 1986.9H626.33M620.33 2213.5H626.33" stroke="#000" stroke-width="1.25" fill="none"/>
<path d="M644.37 2144.8V2257.2M641.37 2144.8H647.37M641.37 2257.2H647.37" stroke="#000" stroke-width="1.25" fill="none"/>
<path d="M670.07 2023.4V2217.1M667.07 2023.4H673.07M667.07 2217.1H673.07" stroke="#000" stroke-width="1.25" fill="none"/>
<path d="M691.11 2155.6V2253.1M688.11 2155.6H694.11M688.11 2253.1H694.11" stroke="#000" stroke-width="1.25" fill="none"/>
<path d="M716.82 2063.9V2227.7M713.82 2063.9H719.82M713.82 2227.7H719.82" stroke="#000" stroke-width="1.25" fill="none"/>
<path d="M737.86 2182.5V2259.7M734.86 2182.5H740.86M734.86 2259.7H740.86" stroke="#000" stroke-width="1.25" fill="none"/>
<path d="M763.57 2097.3V2231.5M760.57 2097.3H766.57M760.57 2231.5H766.57" stroke="#000" stroke-width="1.25" fill="none"/>
<path d="M784.6 2201.7V2265.4M781.6 2201.7H787.6M781.6 2265.4H787.6" stroke="#000" stroke-width="1.25" fill="none"/>
<path d="M810.31 2159.7V2259M807.31 2159.7H813.31M807.31 2259H813.31" stroke="#000" stroke-width="1.25" fill="none"/>
<path d="M831.35 2239V2284.1M828.35 2239H834.35M828.35 2284.1H834.35" stroke="#000" stroke-width="1.25" fill="none"/>
<path d="M857.06 2225.6V2287.2M854.06 2225.6H860.06M854.06 2287.2H860.06" stroke="#000" stroke-width="1.25" fill="none"/>
<path d="M878.09 2280.8V2308.5M875.09 2280.8H881.09M875.09 2308.5H881.09" stroke="#000" stroke-width="1.25" fill="none"/>
<path d="M903.8 2269V2306.3M900.8 2269H906.8M900.8 2306.3H906.8" stroke="#000" stroke-width="1.25" fill="none"/>
<path d="M924.84 2311.8V2326.7M921.84 2311.8H927.84M921.84 2326.7H927.84" stroke="#000" stroke-width="1.25" fill="none"/>
<path d="M950.55 2303.6V2326.6M947.55 2303.6H953.55M947.55 2326.6H953.55" stroke="#000" stroke-width="1.25" fill="none"/>
<path d="M971.58 2333.5V2342.2M968.58 2333.5H974.58M968.58 2342.2H974.58" stroke="#000" stroke-width="1.25" fill="none"/>
<path d="M997.29 2328.5V2342.2M994.29 2328.5H1000.29M994.29 2342.2H1000.29" stroke="#000" stroke-width="1.25" fill="none"/>
<path d="M1018.33 2351.4V2356.1M1015.33 2351.4H1021.33M1015.33 2356.1H1021.33" stroke="#000" stroke-width="1.25" fill="none"/>
<path d="M1044.04 2348.9V2355.7M1041.04 2348.9H1047.04M1041.04 2355.7H1047.04" stroke="#000" stroke-width="1.25" fill="none"/>
<path d="M1065.07 2363.2V2364.5M1062.07 2363.2H1068.07M1062.07 2364.5H1068.07" stroke="#000" stroke-width="1.25" fill="none"/>
<polygon points="155.88,2336.5 202.62,2354.3 249.37,2347.5 296.11,2337.9 342.86,2327 389.6,2313.3 436.35,2303 483.09,2298.2 529.84,2291 576.58,2283.9 623.33,2278.2 670.07,2275.7 716.82,2269.2 763.57,2266.7 810.31,2265.4 857.06,2262.3 903.8,2263.6 950.55,2244.8 997.29,2187 1044.04,2088.4 1044.04,2189.5 997.29,2250 950.55,2288 903.8,2297 857.06,2314.1 810.31,2320.6 763.57,2325.7 716.82,2329.5 670.07,2339.3 623.33,2343.7 576.58,2348 529.84,2351.4 483.09,2353.9 436.35,2357 389.6,2358.4 342.86,2359.8 296.11,2361.7 249.37,2362.5 202.62,2361.7 155.88,2353" fill="#F05A96" fill-opacity="0.47"/>
<polygon points="176.91,2337.9 223.66,2357.1 270.4,2358.4 317.15,2355.7 363.89,2351.6 410.64,2346.1 457.38,2341 504.13,2334.7 550.88,2329.5 597.62,2324.4 644.37,2318 691.11,2312.9 737.86,2305.2 784.6,2302.6 831.35,2298.7 878.09,2293.6 924.84,2283.3 971.58,2257.6 1018.33,2215.9 1065.07,2140.6 1065.07,2207.4 1018.33,2249.7 971.58,2284.6 924.84,2306.2 878.09,2312.9 831.35,2320.6 784.6,2327 737.86,2330.8 691.11,2339.3 644.37,2343.7 597.62,2348 550.88,2351.4 504.13,2353.9 457.38,2357.5 410.64,2359.8 363.89,2361.7 317.15,2363.4 270.4,2364.5 223.66,2363.4 176.91,2348.9" fill="#52C6B4" fill-opacity="0.47"/>
<polyline points="155.88,2340.4 202.62,2357.9 249.37,2358.4 296.11,2353 342.86,2346.1 389.6,2337.9 436.35,2332 483.09,2326.5 529.84,2319.3 576.58,2314.1 623.33,2310.3 670.07,2307.7 716.82,2302.6 763.57,2297.5 810.31,2293.6 857.06,2289.8 903.8,2285.9 950.55,2266.6 997.29,2217 1044.04,2127.9" fill="none" stroke="#E85592" stroke-width="1.3"/>
<polyline points="176.91,2340.6 223.66,2361.7 270.4,2362.5 317.15,2360.6 363.89,2357.9 410.64,2353.8 457.38,2350 504.13,2346.2 550.88,2342.4 597.62,2337.2 644.37,2332.1 691.11,2327 737.86,2321.8 784.6,2316.7 831.35,2311.6 878.09,2305.2 924.84,2296.6 971.58,2270.5 1018.33,2227.2 1065.07,2166.8" fill="none" stroke="#52C6B4" stroke-width="1.3"/>
<path d="M138.35 1968.4V2388.9H1082.6V1968.4" fill="none" stroke="#1a1a1a" stroke-width="1.5"/>
<text x="131.6" y="2375.6" text-anchor="end" font-size="18.5" font-weight="bold" fill="#4D4D4D">0</text>
<text x="131.6" y="2283.5" text-anchor="end" font-size="18.5" font-weight="bold" fill="#4D4D4D">250 000</text>
<text x="131.6" y="2191.1" text-anchor="end" font-size="18.5" font-weight="bold" fill="#4D4D4D">500 000</text>
<text x="131.6" y="2098.8" text-anchor="end" font-size="18.5" font-weight="bold" fill="#4D4D4D">750 000</text>
<text x="131.6" y="2006.5" text-anchor="end" font-size="18.5" font-weight="bold" fill="#4D4D4D">1 000 000</text>
<text x="1089" y="2376" font-size="18.5" font-weight="bold" fill="#4D4D4D">0</text>
<text x="1089" y="2276.1" font-size="18.5" font-weight="bold" fill="#4D4D4D">500</text>
<text x="1089" y="2176.2" font-size="18.5" font-weight="bold" fill="#4D4D4D">1000</text>
<text x="1089" y="2076.3" font-size="18.5" font-weight="bold" fill="#4D4D4D">1500</text>
<text x="1089" y="1976.4" font-size="18.5" font-weight="bold" fill="#4D4D4D">2000</text>
<path d="M135.6 2369H138.35M135.6 2276.9H138.35M135.6 2184.5H138.35M135.6 2092.2H138.35M135.6 1999.9H138.35M1082.6 2369.4H1085.35M1082.6 2269.5H1085.35M1082.6 2169.6H1085.35M1082.6 2069.7H1085.35M1082.6 1969.8H1085.35M166.4 2388.9V2391.65M213.14 2388.9V2391.65M259.89 2388.9V2391.65M306.63 2388.9V2391.65M353.38 2388.9V2391.65M400.12 2388.9V2391.65M446.87 2388.9V2391.65M493.61 2388.9V2391.65M540.36 2388.9V2391.65M587.1 2388.9V2391.65M633.85 2388.9V2391.65M680.59 2388.9V2391.65M727.34 2388.9V2391.65M774.08 2388.9V2391.65M820.83 2388.9V2391.65M867.57 2388.9V2391.65M914.32 2388.9V2391.65M961.06 2388.9V2391.65M1007.81 2388.9V2391.65M1054.55 2388.9V2391.65" stroke="#1a1a1a" stroke-width="1.3" fill="none"/>
<text transform="translate(177.7,2400.2) rotate(-66)" text-anchor="end" font-size="18.7" font-weight="bold" fill="#4D4D4D"><5 years</text>
<text transform="translate(224.44,2400.2) rotate(-66)" text-anchor="end" font-size="18.7" font-weight="bold" fill="#4D4D4D">5–9 years</text>
<text transform="translate(271.19,2400.2) rotate(-66)" text-anchor="end" font-size="18.7" font-weight="bold" fill="#4D4D4D">10–14 years</text>
<text transform="translate(317.93,2400.2) rotate(-66)" text-anchor="end" font-size="18.7" font-weight="bold" fill="#4D4D4D">15–19 years</text>
<text transform="translate(364.68,2400.2) rotate(-66)" text-anchor="end" font-size="18.7" font-weight="bold" fill="#4D4D4D">20–24 years</text>
<text transform="translate(411.42,2400.2) rotate(-66)" text-anchor="end" font-size="18.7" font-weight="bold" fill="#4D4D4D">25–29 years</text>
<text transform="translate(458.17,2400.2) rotate(-66)" text-anchor="end" font-size="18.7" font-weight="bold" fill="#4D4D4D">30–34 years</text>
<text transform="translate(504.91,2400.2) rotate(-66)" text-anchor="end" font-size="18.7" font-weight="bold" fill="#4D4D4D">35–39 years</text>
<text transform="translate(551.66,2400.2) rotate(-66)" text-anchor="end" font-size="18.7" font-weight="bold" fill="#4D4D4D">40–44 years</text>
<text transform="translate(598.4,2400.2) rotate(-66)" text-anchor="end" font-size="18.7" font-weight="bold" fill="#4D4D4D">45–49 years</text>
<text transform="translate(645.15,2400.2) rotate(-66)" text-anchor="end" font-size="18.7" font-weight="bold" fill="#4D4D4D">50–54 years</text>
<text transform="translate(691.89,2400.2) rotate(-66)" text-anchor="end" font-size="18.7" font-weight="bold" fill="#4D4D4D">55–59 years</text>
<text transform="translate(738.64,2400.2) rotate(-66)" text-anchor="end" font-size="18.7" font-weight="bold" fill="#4D4D4D">60–64 years</text>
<text transform="translate(785.38,2400.2) rotate(-66)" text-anchor="end" font-size="18.7" font-weight="bold" fill="#4D4D4D">65–69 years</text>
<text transform="translate(832.13,2400.2) rotate(-66)" text-anchor="end" font-size="18.7" font-weight="bold" fill="#4D4D4D">70–74 years</text>
<text transform="translate(878.87,2400.2) rotate(-66)" text-anchor="end" font-size="18.7" font-weight="bold" fill="#4D4D4D">75–79 years</text>
<text transform="translate(925.62,2400.2) rotate(-66)" text-anchor="end" font-size="18.7" font-weight="bold" fill="#4D4D4D">80–84 years</text>
<text transform="translate(972.36,2400.2) rotate(-66)" text-anchor="end" font-size="18.7" font-weight="bold" fill="#4D4D4D">85–89 years</text>
<text transform="translate(1019.11,2400.2) rotate(-66)" text-anchor="end" font-size="18.7" font-weight="bold" fill="#4D4D4D">90–94 years</text>
<text transform="translate(1065.85,2400.2) rotate(-66)" text-anchor="end" font-size="18.7" font-weight="bold" fill="#4D4D4D">95+ years</text>
<text transform="translate(30.8,2178.65) rotate(-90)" text-anchor="middle" font-size="18.7" font-weight="bold" fill="#000">Number of DALYs cases</text>
<text transform="translate(1147.5,2178.65) rotate(90)" text-anchor="middle" font-size="18.7" font-weight="bold" fill="#000">Rate per 100,000 population</text>
</svg>
</body></html>
